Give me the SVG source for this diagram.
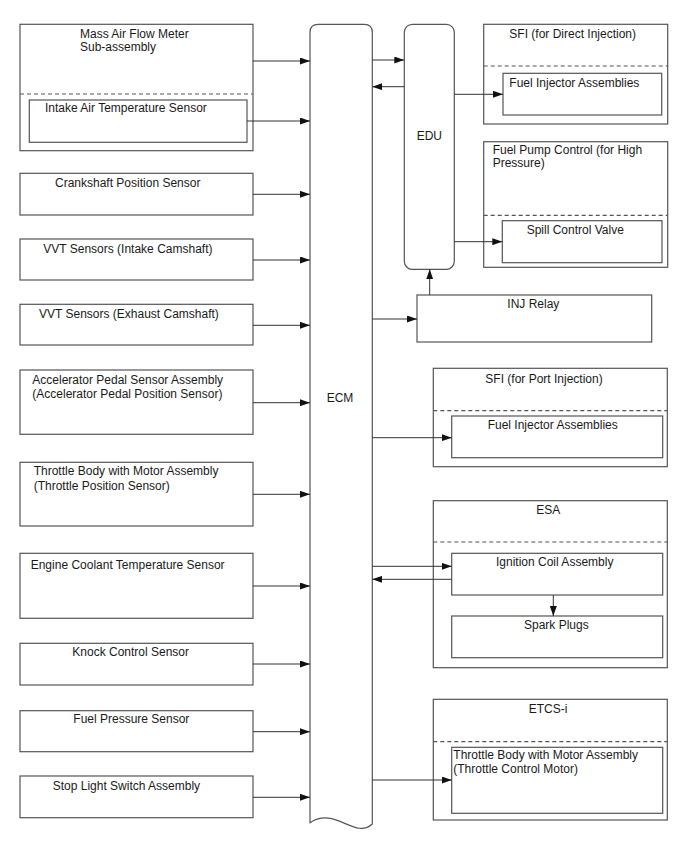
<svg xmlns="http://www.w3.org/2000/svg" width="688" height="852" viewBox="0 0 688 852">
<style>
.b{fill:#fff;stroke:#555;stroke-width:1.2}
.d{stroke:#555;stroke-width:1.2;stroke-dasharray:4,3;fill:none}
.c{stroke:#333;stroke-width:1;fill:none;marker-end:url(#ah)}
text{font-family:"Liberation Sans",Arial,sans-serif;font-size:12px;fill:#1a1a1a}
</style>
<defs>
<marker id="ah" markerUnits="userSpaceOnUse" markerWidth="10" markerHeight="7" refX="10" refY="3.5" orient="auto">
<path d="M0,0 L10,3.5 L0,7 z" fill="#111"/>
</marker>
</defs>
<rect width="688" height="852" fill="#fff"/>

<g id="maf">
<rect class="b" x="20" y="24.3" width="233" height="126.4"/>
<line class="d" x1="20" y1="94" x2="253" y2="94"/>
<text x="80" y="37.5">Mass Air Flow Meter</text>
<text x="80" y="51">Sub-assembly</text>
</g>
<g id="iat">
<rect class="b" x="29.3" y="100" width="217.7" height="42.3"/>
<text x="45" y="112">Intake Air Temperature Sensor</text>
</g>
<g id="ckp">
<rect class="b" x="20" y="173.3" width="233" height="41.7"/>
<text x="55" y="187">Crankshaft Position Sensor</text>
</g>
<g id="vvti">
<rect class="b" x="20" y="239" width="233" height="41"/>
<text x="43.3" y="253">VVT Sensors (Intake Camshaft)</text>
</g>
<g id="vvte">
<rect class="b" x="20" y="304.3" width="233" height="40.7"/>
<text x="39" y="318">VVT Sensors (Exhaust Camshaft)</text>
</g>
<g id="app">
<rect class="b" x="20" y="370" width="233" height="64.3"/>
<text x="32.3" y="383.5">Accelerator Pedal Sensor Assembly</text>
<text x="32.3" y="397.8">(Accelerator Pedal Position Sensor)</text>
</g>
<g id="tps">
<rect class="b" x="20" y="462.3" width="233" height="63.7"/>
<text x="33.7" y="475.3">Throttle Body with Motor Assembly</text>
<text x="33.7" y="489.5">(Throttle Position Sensor)</text>
</g>
<g id="ect">
<rect class="b" x="20" y="553.3" width="233" height="65"/>
<text x="30.7" y="569">Engine Coolant Temperature Sensor</text>
</g>
<g id="knock">
<rect class="b" x="20" y="643.3" width="233" height="41.7"/>
<text x="72.3" y="656">Knock Control Sensor</text>
</g>
<g id="fps">
<rect class="b" x="20" y="710.7" width="233" height="41"/>
<text x="73.3" y="723">Fuel Pressure Sensor</text>
</g>
<g id="stop">
<rect class="b" x="20" y="776" width="233" height="41.7"/>
<text x="52.7" y="789.5">Stop Light Switch Assembly</text>
</g>

<g id="ecm">
<path class="b" d="M310,822.7 L310,32.3 Q310,24.3 318.3,24.3 L364.3,24.3 Q372.3,24.3 372.3,32.3 L372.3,824 C355,840 335,806 310,822.7 Z"/>
<text x="326.7" y="401.7">ECM</text>
</g>
<g id="edu">
<rect class="b" x="404.3" y="24.3" width="50" height="245" rx="8" ry="8"/>
<text x="429.3" y="140" text-anchor="middle">EDU</text>
</g>

<g id="sfi-di">
<rect class="b" x="483.7" y="24.3" width="184" height="99.7"/>
<line class="d" x1="483.7" y1="66" x2="667.7" y2="66"/>
<text x="509.3" y="38">SFI (for Direct Injection)</text>
</g>
<g id="inj-di">
<rect class="b" x="503" y="73.3" width="158.7" height="41.7"/>
<text x="509.3" y="86.7">Fuel Injector Assemblies</text>
</g>
<g id="fpc">
<rect class="b" x="483.7" y="141.7" width="184" height="125.6"/>
<line class="d" x1="483.7" y1="215.3" x2="667.7" y2="215.3"/>
<text x="492.7" y="154.3">Fuel Pump Control (for High</text>
<text x="492.7" y="166.8">Pressure)</text>
</g>
<g id="scv">
<rect class="b" x="502.3" y="220.7" width="159.7" height="42"/>
<text x="526.7" y="233.5">Spill Control Valve</text>
</g>
<g id="injrelay">
<rect class="b" x="417" y="295" width="234.7" height="47"/>
<text x="507.3" y="308">INJ Relay</text>
</g>
<g id="sfi-pi">
<rect class="b" x="433.3" y="368.3" width="234" height="98.4"/>
<line class="d" x1="433.3" y1="410.7" x2="667.3" y2="410.7"/>
<text x="485.3" y="382.7">SFI (for Port Injection)</text>
</g>
<g id="inj-pi">
<rect class="b" x="451.7" y="416" width="211" height="41.7"/>
<text x="487.7" y="428.5">Fuel Injector Assemblies</text>
</g>
<g id="esa">
<rect class="b" x="433.3" y="500.7" width="234" height="167"/>
<line class="d" x1="433.3" y1="542" x2="667.3" y2="542"/>
<text x="548.3" y="514" text-anchor="middle">ESA</text>
</g>
<g id="igcoil">
<rect class="b" x="451.7" y="553.3" width="211" height="41.7"/>
<text x="496" y="565.5">Ignition Coil Assembly</text>
</g>
<g id="spark">
<rect class="b" x="451.7" y="616" width="211" height="41.7"/>
<text x="524" y="628.5">Spark Plugs</text>
</g>
<g id="etcs">
<rect class="b" x="433.3" y="699.3" width="234" height="120.7"/>
<line class="d" x1="433.3" y1="741.7" x2="667.3" y2="741.7"/>
<text x="528.7" y="713.3">ETCS-i</text>
</g>
<g id="tcm">
<rect class="b" x="451.7" y="747.3" width="211" height="66"/>
<text x="453.3" y="758.5">Throttle Body with Motor Assembly</text>
<text x="453.3" y="772.5">(Throttle Control Motor)</text>
</g>

<g id="connectors">
<line class="c" x1="253" y1="61" x2="310" y2="61"/>
<line class="c" x1="247" y1="121" x2="310" y2="121"/>
<line class="c" x1="253" y1="194.3" x2="310" y2="194.3"/>
<line class="c" x1="253" y1="260" x2="310" y2="260"/>
<line class="c" x1="253" y1="325.3" x2="310" y2="325.3"/>
<line class="c" x1="253" y1="402.7" x2="310" y2="402.7"/>
<line class="c" x1="253" y1="494.3" x2="310" y2="494.3"/>
<line class="c" x1="253" y1="586" x2="310" y2="586"/>
<line class="c" x1="253" y1="664" x2="310" y2="664"/>
<line class="c" x1="253" y1="731.7" x2="310" y2="731.7"/>
<line class="c" x1="253" y1="797.3" x2="310" y2="797.3"/>
<line class="c" x1="372.3" y1="60" x2="404.3" y2="60"/>
<line class="c" x1="404.3" y1="86.7" x2="372.3" y2="86.7"/>
<line class="c" x1="454.3" y1="94.3" x2="503" y2="94.3"/>
<line class="c" x1="454.3" y1="241.7" x2="502.3" y2="241.7"/>
<line class="c" x1="429.7" y1="295" x2="429.7" y2="269.3"/>
<line class="c" x1="372.3" y1="319" x2="417" y2="319"/>
<line class="c" x1="372.3" y1="437.7" x2="451.7" y2="437.7"/>
<line class="c" x1="372.3" y1="566.3" x2="451.7" y2="566.3"/>
<line class="c" x1="451.7" y1="579.3" x2="372.3" y2="579.3"/>
<line class="c" x1="553.3" y1="595" x2="553.3" y2="616"/>
<line class="c" x1="372.3" y1="780" x2="451.7" y2="780"/>
</g>
</svg>
